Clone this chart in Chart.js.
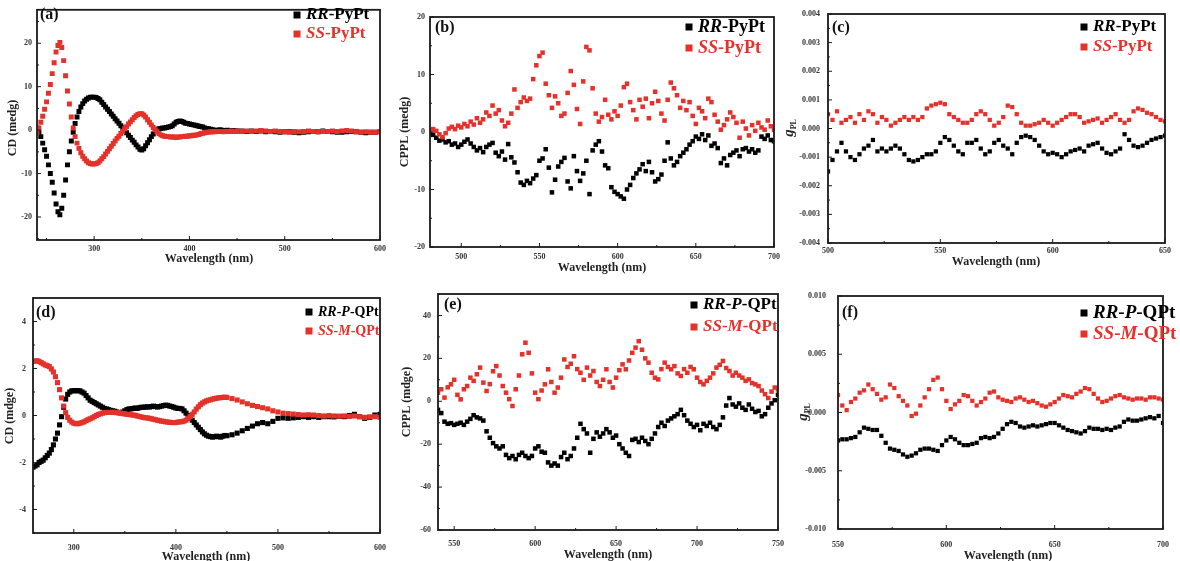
<!DOCTYPE html>
<html>
<head>
<meta charset="utf-8">
<script src="https://cdn.jsdelivr.net/npm/chart.js@4.4.0/dist/chart.umd.min.js"></script>
<style>
html, body { margin: 0; padding: 0; background: #fff; }
#wrap { position: relative; width: 1180px; height: 561px; overflow: hidden; }
#wrap canvas { position: absolute; left: 0; top: 0; }
</style>
</head>
<body>
<div id="wrap">
<canvas id="pa" width="1180" height="561"></canvas>
<canvas id="pb" width="1180" height="561"></canvas>
<canvas id="pc" width="1180" height="561"></canvas>
<canvas id="pd" width="1180" height="561"></canvas>
<canvas id="pe" width="1180" height="561"></canvas>
<canvas id="pf" width="1180" height="561"></canvas>
</div>
<script>
// wavelength grids (nm)
function grid(a, b, step) {
	var out = [];
	for (var v = a; v <= b + 1e-9; v += step) out.push(v);
	return out;
}
var wlA = grid(240, 450, 2).concat(grid(455, 600, 5));
var wlB = grid(480, 700, 2);
var wlC = grid(500, 650, 2);
var wlD = grid(260, 450, 2).concat(grid(455, 600, 5));
var wlE = grid(540, 750, 2);
var wlF = grid(550, 700, 2);

// (a) CD of PyPt, mdeg
var cdRR_PyPt = [0.5,-0.5,-1.5,-3,-4.5,-6,-8,-10,-12,-14.5,-17,-18.8,-19.5,
	-18,-15,-11.5,-8,-5,-2.5,-0.5,1.5,3,4.3,5.3,6.1,6.7,7.1,7.4,7.6,7.6,7.6,7.5,7.3,
	7.0,6.4,5.9,5.3,4.8,4.3,3.7,3.2,2.6,2.1,1.6,1.0,0.5,-0.1,-0.6,-1.2,-1.7,-2.3,-2.8,-3.4,-3.9,-4.4,-4.6,
	-4.3,-3.6,-2.9,-2.2,-1.5,-0.9,-0.3,0.1,0.3,0.4,0.5,0.5,0.6,0.7,0.8,1.0,1.4,1.8,2.0,2.1,
	2.0,1.8,1.6,1.5,1.4,1.3,1.2,1.1,1.0,0.9,0.8,0.7,0.5,0.4,0.3,0.2,0.1,0.0,0.0,-0.1,0.1,0.0,-0.1,-0.1,0.0,-0.1,-0.2,-0.1,-0.2,-0.2,
	-0.2,-0.3,-0.2,-0.3,-0.2,-0.4,-0.3,-0.4,-0.5,-0.4,-0.4,-0.5,-0.6,-0.5,-0.4,-0.3,-0.4,-0.2,-0.3,-0.4,
	-0.5,-0.5,-0.4,-0.3,-0.4,-0.5,-0.6,-0.5,-0.5,-0.4];
var cdSS_PyPt = [-0.5,0.5,1.8,3.2,4.8,6.5,8.5,10.5,13,15.5,18,19.5,20.2,
	19,16,12.5,9,6,3,0.5,-1.5,-3,-4.2,-5.2,-6,-6.6,-7.1,-7.5,-7.7,-7.8,-7.8,-7.7,-7.5,
	-7.1,-6.6,-6.1,-5.5,-4.9,-4.3,-3.7,-3.1,-2.5,-1.9,-1.4,-0.8,-0.3,0.3,0.8,1.4,1.9,2.4,2.9,3.3,3.6,3.8,3.8,
	3.5,3.0,2.4,1.8,1.2,0.6,0.1,-0.4,-0.8,-1.1,-1.3,-1.4,-1.5,-1.5,-1.6,-1.6,-1.6,-1.7,-1.6,-1.6,
	-1.5,-1.5,-1.4,-1.4,-1.3,-1.3,-1.2,-1.2,-1.1,-1.0,-0.8,-0.7,-0.6,-0.5,-0.5,-0.4,-0.4,-0.4,-0.3,-0.3,
	-0.3,-0.3,-0.4,-0.3,-0.3,-0.3,-0.2,-0.3,-0.3,-0.2,
	-0.3,-0.2,-0.3,-0.2,-0.1,-0.2,-0.3,-0.2,-0.3,-0.4,-0.5,-0.3,-0.4,-0.3,-0.2,-0.3,-0.4,-0.3,-0.3,-0.2,
	-0.3,-0.2,-0.1,-0.2,-0.4,-0.5,-0.4,-0.5,-0.5,-0.4];

// (b) CPPL of PyPt, mdeg
var cpplRR_PyPt = [0,-0.5,-1.0,-1.5,-1.3,-1.8,-1.6,-2.2,-2.0,-2.6,
	-2.2,-1.7,-1.3,-2.0,-2.6,-3.2,-2.8,-3.5,-2.6,-2.2,
	-1.9,-3.6,-4.2,-3.4,-4.8,-2.1,-4.4,-5.3,-7.0,-8.8,
	-9.2,-8.5,-8.9,-8.1,-7.5,-5.0,-4.6,-3.0,-6.2,-10.5,
	-8.3,-6.0,-5.2,-4.5,-8.6,-9.8,-4.2,-6.8,-8.5,-7.2,
	-5.0,-10.8,-3.2,-2.2,-1.6,-3.4,-5.8,-6.3,-9.6,-10.4,
	-10.8,-11.2,-11.6,-10.0,-9.2,-8.0,-7.2,-6.5,-5.6,-6.8,
	-5.2,-7.0,-8.6,-8.2,-7.4,-5.0,-1.8,-4.6,-5.8,-5.2,
	-4.2,-3.6,-3.0,-2.2,-1.6,-0.8,-1.2,-0.4,-1.4,-0.6,
	-2.4,-2.0,-2.8,-5.4,-4.6,-5.8,-4.0,-3.6,-3.2,-4.2,
	-3.0,-2.8,-3.4,-3.0,-3.6,-3.2,-0.8,-1.2,-0.6,-1.4,
	-1.6];
var cpplSS_PyPt = [0.3,0.5,0.2,-0.4,-0.9,-0.2,0.6,0.9,0.5,1.1,
	0.8,1.4,1.0,1.8,1.3,2.4,1.6,2.2,3.4,2.8,
	4.6,3.2,3.8,2.0,1.0,1.6,3.2,7.4,4.2,5.2,
	6.0,5.4,5.8,9.2,11.6,13.2,13.8,8.4,6.4,4.2,
	6.2,5.0,2.8,3.2,6.8,10.6,8.2,4.0,1.4,8.8,
	14.8,14.2,7.6,3.2,1.8,2.6,5.6,3.0,2.2,3.6,
	2.8,4.6,7.8,8.4,5.2,3.8,2.2,5.6,4.4,5.8,
	2.4,5.0,7.0,5.4,3.2,2.0,5.6,8.6,7.6,6.4,
	4.2,5.4,3.8,5.2,2.8,1.4,4.2,3.6,2.4,5.8,
	5.2,3.0,1.8,0.4,1.2,2.2,3.4,2.6,1.6,-1.0,
	1.8,0.6,-0.6,1.2,0.2,1.6,0.8,0.4,2.0,1.0,
	0.4];

// (c) g_PL of PyPt
var gRR_PyPt = [-0.0015,-0.0011,-0.0008,-0.0005,-0.0008,-0.0010,-0.0011,-0.0009,-0.0007,-0.0006,
	-0.0004,-0.0008,-0.0007,-0.0008,-0.0007,-0.0006,-0.0007,-0.0009,-0.0011,-0.00115,
	-0.0011,-0.0010,-0.0009,-0.0009,-0.0008,-0.0005,-0.0003,-0.0004,-0.0006,-0.0008,
	-0.0009,-0.0005,-0.0005,-0.0004,-0.0007,-0.0009,-0.0008,-0.0005,-0.0004,-0.0006,
	-0.0007,-0.0009,-0.0005,-0.0003,-0.00025,-0.0003,-0.0004,-0.0006,-0.0008,-0.0009,
	-0.00085,-0.0009,-0.0010,-0.0009,-0.0008,-0.00075,-0.0007,-0.0008,-0.0006,-0.00055,
	-0.0005,-0.0007,-0.00085,-0.0009,-0.0008,-0.0007,-0.0002,-0.0004,-0.0006,-0.00065,
	-0.0006,-0.0005,-0.0004,-0.00035,-0.0003,-0.00025];
var gSS_PyPt = [0.0005,0.0003,0.0006,0.0002,0.0003,0.0004,0.0002,0.0005,0.0003,0.0006,
	0.0005,0.0002,0.0004,0.0003,0.0001,0.0002,0.0003,0.0004,0.0003,0.0004,
	0.0003,0.0004,0.0007,0.0008,0.00085,0.0009,0.00085,0.0005,0.0004,0.0003,
	0.0002,0.0002,0.0003,0.0005,0.0006,0.0005,0.0003,0.0001,0.0002,0.0004,
	0.0008,0.00075,0.0005,0.0002,0.0001,0.0001,0.00015,0.0002,0.0003,0.0002,
	0.0001,0.0002,0.0003,0.0004,0.0005,0.0005,0.0004,0.0002,0.00025,0.0003,
	0.00035,0.0002,0.0003,0.0004,0.0005,0.0003,0.0002,0.0003,0.0006,0.0007,
	0.00065,0.00055,0.0005,0.0004,0.0003,0.00025];

// (d) CD of QPt, mdeg
var cdRR_P_QPt = [-2.2,-2.15,-2.1,-2.0,-1.95,-1.9,-1.8,-1.7,-1.6,-1.45,
	-1.25,-1.0,-0.75,-0.4,-0.05,0.35,0.7,0.9,1.0,1.05,
	1.05,1.06,1.05,1.05,1.0,0.95,0.85,0.75,0.65,0.6,
	0.55,0.5,0.45,0.4,0.35,0.3,0.28,0.25,0.22,0.2,
	0.18,0.15,0.12,0.12,0.15,0.2,0.25,0.28,0.28,0.3,
	0.32,0.3,0.33,0.35,0.35,0.36,0.37,0.36,0.38,0.4,
	0.38,0.36,0.38,0.4,0.42,0.44,0.43,0.4,0.38,0.35,
	0.32,0.3,0.3,0.28,0.2,0.1,0.0,-0.1,-0.2,-0.3,
	-0.4,-0.5,-0.6,-0.7,-0.78,-0.84,-0.88,-0.9,-0.92,-0.9,
	-0.88,-0.9,-0.92,-0.88,-0.85,-0.86,
	-0.82,-0.75,-0.65,-0.55,-0.45,-0.35,-0.3,-0.35,-0.25,-0.12,
	-0.1,-0.12,-0.1,-0.08,-0.05,-0.08,-0.05,-0.08,-0.05,-0.05,
	-0.06,-0.04,-0.05,0.0,0.05,-0.05,-0.12,-0.08,0.02,0.05];
var cdSS_M_QPt = [2.3,2.32,2.33,2.3,2.25,2.2,2.15,2.12,2.08,1.98,
	1.85,1.65,1.4,1.1,0.75,0.4,0.12,-0.08,-0.2,-0.28,
	-0.33,-0.35,-0.35,-0.33,-0.3,-0.27,-0.22,-0.18,-0.14,-0.1,
	-0.05,0.0,0.04,0.07,0.1,0.12,0.13,0.13,0.13,0.14,
	0.13,0.12,0.12,0.1,0.08,0.07,0.05,0.04,0.03,0.02,
	0.01,-0.02,-0.04,-0.06,-0.08,-0.1,-0.1,-0.12,-0.14,-0.16,
	-0.18,-0.2,-0.22,-0.24,-0.25,-0.27,-0.28,-0.29,-0.3,-0.3,
	-0.3,-0.28,-0.27,-0.26,-0.24,-0.2,-0.12,-0.04,0.05,0.15,
	0.27,0.37,0.46,0.53,0.58,0.62,0.65,0.67,0.7,0.72,
	0.74,0.75,0.76,0.77,0.78,0.77,
	0.72,0.66,0.58,0.5,0.43,0.38,0.33,0.28,0.2,0.15,
	0.1,0.08,0.06,0.04,0.02,0.03,0.02,0.0,-0.02,0.0,
	-0.02,-0.03,-0.02,-0.04,-0.02,-0.05,-0.08,-0.06,-0.05,-0.08];

// (e) CPPL of QPt, mdeg
var cpplRR_P_QPt = [-4.0,-5.5,-9.5,-10.5,-10.2,-11.0,-10.5,-10.0,-11.0,-9.5,
	-8.2,-6.5,-7.5,-8.0,-9.0,-14.0,-17.0,-19.5,-21.0,-22.0,
	-21.0,-25.0,-26.5,-25.5,-27.0,-25.0,-24.0,-25.5,-26.5,-25.5,
	-22.0,-21.0,-23.5,-24.0,-28.5,-30.0,-29.0,-30.0,-26.0,-24.0,
	-27.0,-25.5,-22.0,-17.0,-10.5,-13.0,-15.0,-24.0,-17.5,-14.5,
	-16.5,-15.0,-13.0,-14.5,-17.0,-16.0,-20.0,-22.0,-24.0,-25.5,
	-18.0,-17.5,-19.0,-17.0,-18.5,-20.0,-17.5,-15.0,-12.0,-10.0,
	-11.5,-9.0,-8.0,-7.0,-6.0,-4.0,-6.5,-9.0,-10.5,-12.0,
	-11.0,-13.5,-10.5,-11.5,-10.0,-12.0,-13.0,-11.0,-7.5,-2.0,
	1.5,-1.5,-2.5,-1.0,-3.0,-4.0,-1.5,-3.5,-5.0,-4.5,
	-7.0,-6.0,-3.0,-1.0,0.5,3.0];
var cpplSS_M_QPt = [4.0,5.6,1.7,6.5,7.9,10.0,3.0,0.9,5.6,7.1,
	11.0,9.5,12.6,15.7,8.7,4.8,8.0,14.0,16.4,12.0,
	7.1,4.0,1.0,-2.2,5.6,12.0,21.9,27.3,22.6,13.0,
	4.0,1.0,5.0,7.9,14.9,9.0,4.0,6.4,11.0,19.5,
	16.0,17.5,21.0,15.0,13.3,10.0,15.7,12.0,14.1,9.0,
	7.1,10.0,14.9,9.0,6.4,11.0,14.5,17.2,14.9,19.0,
	22.6,25.0,28.0,24.0,20.0,18.0,13.3,11.0,10.2,15.0,
	18.0,16.0,14.9,16.4,13.0,11.8,15.0,13.3,16.0,14.9,
	11.0,9.0,7.9,9.5,11.0,13.0,15.7,17.0,18.8,15.5,
	14.1,12.0,13.3,12.0,11.0,9.5,10.2,8.5,7.9,7.1,
	5.0,3.3,1.5,4.5,6.4,5.5];

// (f) g_PL of QPt
var gRR_P_QPt = [-0.0024,-0.0023,-0.0023,-0.0022,-0.0021,-0.0017,-0.0013,-0.0014,-0.0015,-0.0015,
	-0.0020,-0.0026,-0.0031,-0.0032,-0.0033,-0.0036,-0.0038,-0.0037,-0.0035,-0.0032,
	-0.0031,-0.0031,-0.0032,-0.0033,-0.0028,-0.0024,-0.0021,-0.0023,-0.0026,-0.0028,
	-0.0028,-0.0027,-0.0026,-0.0022,-0.0021,-0.0022,-0.0021,-0.0018,-0.0014,-0.0010,
	-0.0008,-0.0009,-0.0012,-0.0013,-0.0012,-0.0011,-0.0012,-0.0011,-0.0010,-0.0009,
	-0.0009,-0.0011,-0.0013,-0.0015,-0.0016,-0.0017,-0.0018,-0.0016,-0.0013,-0.0014,
	-0.0014,-0.0015,-0.0014,-0.0015,-0.0013,-0.0012,-0.0008,-0.0006,-0.0007,-0.0007,
	-0.0006,-0.0005,-0.0004,-0.0005,-0.0003,-0.0009];
var gSS_M_QPt = [0.0015,0.0006,0.0002,0.0009,0.0012,0.0017,0.0019,0.0024,0.0020,0.0016,
	0.0011,0.0013,0.0024,0.0021,0.0014,0.0010,0.0006,-0.0003,-0.0001,0.0006,
	0.0013,0.0020,0.0028,0.0030,0.0020,0.0010,0.0003,0.0007,0.0010,0.0015,
	0.0014,0.0010,0.0006,0.0009,0.0012,0.0017,0.0018,0.0013,0.0011,0.0010,
	0.0009,0.0012,0.0013,0.0011,0.0009,0.0010,0.0008,0.0006,0.0005,0.0007,
	0.0009,0.0012,0.0015,0.0014,0.0013,0.0016,0.0018,0.0021,0.0020,0.0016,
	0.0012,0.0009,0.0010,0.0012,0.0014,0.0015,0.0013,0.0012,0.0011,0.0012,
	0.0012,0.0011,0.0013,0.0013,0.0012,0.0011];

var FONT = "'Liberation Serif', 'Times New Roman', serif";
var RED = '#e4312a';
var BLACK = '#000';

function pts(xs, ys) {
	return xs.map(function(x, i) { return {x: x, y: ys[i]}; });
}

// frame, inward ticks, panel tag, legend and axis titles
var framePlugin = {
	id: 'frame',
	afterDatasetsDraw: function(chart, args, o) {
		var ctx = chart.ctx, a = chart.chartArea;
		var sx = chart.scales.x, sy = chart.scales.y;
		ctx.save();
		ctx.strokeStyle = '#1a1a1a';
		ctx.lineWidth = 1.8;
		ctx.strokeRect(a.left, a.top, a.right - a.left, a.bottom - a.top);

		ctx.lineWidth = 1;
		ctx.beginPath();
		var tickSet = function(vals, scale, cb) {
			var half = (vals[1] - vals[0]) / 2;
			var v = vals[0];
			while (v - half >= scale.min - 1e-12) v -= half;
			for (; v <= scale.max + 1e-12; v += half) {
				var major = Math.abs(((v - vals[0]) / half) % 2) < 1e-6;
				cb(scale.getPixelForValue(v), major ? 4 : 2);
			}
		};
		tickSet(o.xt, sx, function(p, len) { ctx.moveTo(p, a.bottom); ctx.lineTo(p, a.bottom - len); });
		tickSet(o.yt, sy, function(p, len) { ctx.moveTo(a.left, p); ctx.lineTo(a.left + len, p); });
		ctx.stroke();

		ctx.textBaseline = 'middle';
		ctx.fillStyle = '#111';
		ctx.font = 'bold 16px ' + FONT;
		ctx.textAlign = 'left';
		ctx.fillText(o.tag[0], o.tag[1], o.tag[2]);

		// legend
		var lg = o.legend;
		[BLACK, RED].forEach(function(col, i) {
			var y = lg.rows[i];
			ctx.fillStyle = col;
			ctx.fillRect(lg.x - 3.5, y - 3.5, 7, 7);
			var tx = lg.x + 9;
			lg.items[i].forEach(function(part) {
				ctx.font = (part[1] ? 'italic ' : '') + 'bold ' + lg.size + 'px ' + FONT;
				ctx.fillText(part[0], tx, y);
				tx += ctx.measureText(part[0]).width;
			});
		});

		// axis titles
		ctx.fillStyle = '#222';
		ctx.textAlign = 'center';
		ctx.font = 'bold 12px ' + FONT;
		ctx.fillText('Wavelength (nm)', o.xTitle[0], o.xTitle[1]);
		ctx.save();
		ctx.translate(o.yTitle[0], o.yTitle[1]);
		ctx.rotate(-Math.PI / 2);
		if (o.yTitle[2] === 'g') {
			ctx.textAlign = 'left';
			ctx.textBaseline = 'alphabetic';
			ctx.font = 'italic bold 15px ' + FONT;
			var gw = ctx.measureText('g').width;
			ctx.font = 'bold 8px ' + FONT;
			var sw = ctx.measureText('PL').width;
			var x0 = -(gw + sw) / 2;
			ctx.font = 'italic bold 15px ' + FONT;
			ctx.fillText('g', x0, 4);
			ctx.font = 'bold 8px ' + FONT;
			ctx.fillText('PL', x0 + gw, 7);
		} else {
			ctx.fillText(o.yTitle[2], 0, 0);
		}
		ctx.restore();
		ctx.restore();
	}
};

function panel(id, cfg) {
	var W = 1180, H = 561, YW = 40, XH = 30;
	var ar = cfg.area;
	var tickFont = {family: FONT, size: 8, weight: 'bold'};
	return new Chart(document.getElementById(id), {
		type: 'scatter',
		data: {
			datasets: [
				{label: cfg.names[1], data: pts(cfg.xs, cfg.red), backgroundColor: RED,
					pointStyle: 'rect', pointRadius: cfg.r, pointBorderWidth: 0, order: 0},
				{label: cfg.names[0], data: pts(cfg.xs, cfg.black), backgroundColor: BLACK,
					pointStyle: 'rect', pointRadius: cfg.r, pointBorderWidth: 0, order: 1}
			]
		},
		options: {
			responsive: false,
			animation: false,
			events: [],
			layout: {padding: {left: ar[0] - YW, top: ar[1], right: W - ar[2], bottom: H - ar[3] - XH}},
			scales: {
				x: {
					type: 'linear', min: cfg.xr[0], max: cfg.xr[1],
					grid: {display: false, drawTicks: false}, border: {display: false},
					afterFit: function(s) { s.height = XH; },
					afterBuildTicks: function(s) { s.ticks = cfg.xt.map(function(v) { return {value: v}; }); },
					ticks: {padding: cfg.pad[0], color: '#333', font: tickFont, maxRotation: 0, autoSkip: false,
						callback: function(v) { return String(v); }}
				},
				y: {
					type: 'linear', min: cfg.yr[0], max: cfg.yr[1],
					grid: {display: false, drawTicks: false}, border: {display: false},
					afterFit: function(s) { s.width = YW; },
					afterBuildTicks: function(s) { s.ticks = cfg.yt.map(function(v) { return {value: v}; }); },
					ticks: {padding: cfg.pad[1], color: '#333', font: tickFont, autoSkip: false,
						callback: function(v) { return cfg.dec ? v.toFixed(cfg.dec) : String(v); }}
				}
			},
			plugins: {legend: {display: false}, tooltip: {enabled: false}, frame: cfg}
		},
		plugins: [framePlugin]
	});
}

var lgPy = [[['RR', 1], ['-PyPt', 0]], [['SS', 1], ['-PyPt', 0]]];
var lgQ = [[['RR', 1], ['-', 0], ['P', 1], ['-QPt', 0]], [['SS', 1], ['-', 0], ['M', 1], ['-QPt', 0]]];

panel('pa', {area: [37, 5, 380, 240], xr: [240, 600], yr: [-25.3, 27.7], xt: [300, 400, 500, 600], yt: [-20, -10, 0, 10, 20],
	xs: wlA, black: cdRR_PyPt, red: cdSS_PyPt, r: 3.5, pad: [4, 5], names: ['RR-PyPt', 'SS-PyPt'],
	tag: ['(a)', 40, 15], legend: {x: 297, rows: [15, 34], size: 17, items: lgPy},
	xTitle: [209, 259], yTitle: [13, 128, 'CD (medg)']});

panel('pb', {area: [430, 17, 774, 247], xr: [480, 700], yr: [-20, 20], xt: [500, 550, 600, 650, 700], yt: [-20, -10, 0, 10, 20],
	xs: wlB, black: cpplRR_PyPt, red: cpplSS_PyPt, r: 3.2, pad: [5, 5], names: ['RR-PyPt', 'SS-PyPt'],
	tag: ['(b)', 435, 28], legend: {x: 689, rows: [27, 48], size: 18, items: lgPy},
	xTitle: [602, 268], yTitle: [405, 132, 'CPPL (medg)']});

panel('pc', {area: [828, 14, 1165, 243], xr: [500, 650], yr: [-0.004, 0.004], xt: [500, 550, 600, 650],
	yt: [-0.004, -0.003, -0.002, -0.001, 0, 0.001, 0.002, 0.003, 0.004], dec: 3,
	xs: wlC, black: gRR_PyPt, red: gSS_PyPt, r: 3.0, pad: [3, 8], names: ['RR-PyPt', 'SS-PyPt'],
	tag: ['(c)', 832, 28], legend: {x: 1084, rows: [27, 47], size: 17, items: lgPy},
	xTitle: [996, 262], yTitle: [789, 128, 'g']});

panel('pd', {area: [33, 298, 380, 533], xr: [260, 600], yr: [-5, 5], xt: [300, 400, 500, 600], yt: [-4, -2, 0, 2, 4],
	xs: wlD, black: cdRR_P_QPt, red: cdSS_M_QPt, r: 3.6, pad: [10, 7], names: ['RR-P-QPt', 'SS-M-QPt'],
	tag: ['(d)', 36, 313], legend: {x: 309, rows: [312, 331], size: 14, items: lgQ},
	xTitle: [206, 557], yTitle: [10, 416, 'CD (mdge)']});

panel('pe', {area: [438, 294, 778, 530], xr: [540, 750], yr: [-60, 50], xt: [550, 600, 650, 700, 750], yt: [-60, -40, -20, 0, 20, 40],
	xs: wlE, black: cpplRR_P_QPt, red: cpplSS_M_QPt, r: 3.2, pad: [9, 7], names: ['RR-P-QPt', 'SS-M-QPt'],
	tag: ['(e)', 444, 305], legend: {x: 694, rows: [305, 327], size: 17, items: lgQ},
	xTitle: [608, 555], yTitle: [407, 402, 'CPPL (mdge)']});

panel('pf', {area: [838, 296, 1178, 529], xr: [550, 700], yr: [-0.01, 0.01], xt: [550, 600, 650, 700],
	yt: [-0.01, -0.005, 0, 0.005, 0.01], dec: 3,
	xs: wlF, black: gRR_P_QPt, red: gSS_M_QPt, r: 3.0, pad: [11, 12], names: ['RR-P-QPt', 'SS-M-QPt'],
	tag: ['(f)', 842, 313], legend: {x: 1084, rows: [313, 334], size: 19, items: lgQ},
	xTitle: [1008, 556], yTitle: [803, 412, 'g']});
</script>
</body>
</html>
